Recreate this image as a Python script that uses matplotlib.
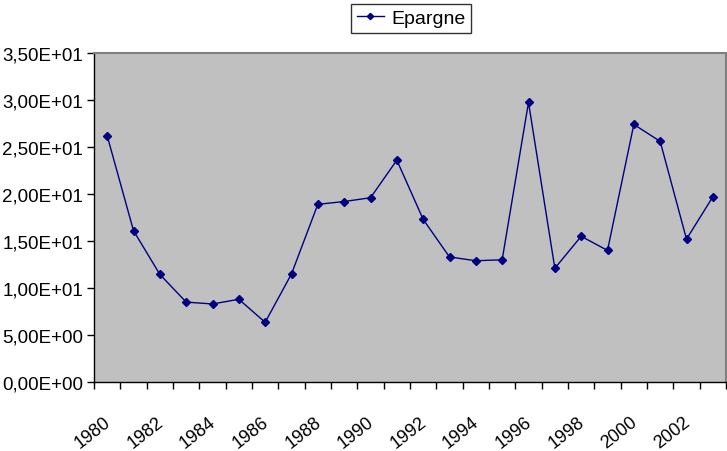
"""Epargne 1980-2003, Excel-style line chart."""

import numpy as np
import matplotlib
matplotlib.use("Agg")
import matplotlib.pyplot as plt
from matplotlib.ticker import FixedLocator, FuncFormatter
from matplotlib.transforms import ScaledTranslation

years = list(range(1980, 2004))
epargne = [26.2, 16.1, 11.45, 8.5, 8.3, 8.8, 6.35, 11.5, 18.9, 19.2, 19.6, 23.6,
           17.3, 13.3, 12.9, 13.0, 29.75, 12.1, 15.5, 14.0, 27.4, 25.6, 15.2, 19.7]
y_ticks = [0, 5, 10, 15, 20, 25, 30, 35]

plt.rcParams["font.family"] = ["Liberation Sans", "DejaVu Sans"]

fig = plt.figure(figsize=(7.27, 4.52), dpi=100)
ax = fig.add_axes([94 / 727, (452 - 383) / 452, 632 / 727, 329 / 452])
ax.set_facecolor("#c0c0c0")

x = np.arange(len(years))
line, = ax.plot(x, epargne, color="#000080", linewidth=1.0, marker="D",
                markersize=4, markerfacecolor="#000080", markeredgecolor="#000080",
                label="Epargne")

ax.set_xlim(-0.5, len(years) - 0.5)
ax.set_ylim(0, 35)

# y axis
ax.set_yticks(y_ticks)
ax.yaxis.set_major_formatter(
    FuncFormatter(lambda v, p: ("%.2E" % v).replace(".", ",")))
ax.tick_params(axis="y", direction="out", length=5, width=1, labelsize=13.5, pad=3)

# x axis: ticks at category boundaries, labels at category centres
ax.xaxis.set_major_locator(FixedLocator(np.arange(-0.5, len(years), 1.0)))
ax.xaxis.set_major_formatter(FuncFormatter(lambda v, p: ""))
ax.xaxis.set_minor_locator(FixedLocator(x[::2]))
ax.set_xticklabels([str(y) for y in years[::2]], minor=True,
                   rotation=38, ha="right", va="top", rotation_mode="anchor")
ax.tick_params(axis="x", which="minor", length=0, labelsize=13, pad=22)
ax.tick_params(axis="x", which="major", direction="out", length=5, width=1)
shift = ScaledTranslation(-4 / 100, 0, fig.dpi_scale_trans)
for lab in ax.get_xticklabels(minor=True):
    lab.set_transform(lab.get_transform() + shift)

for side in ["left", "bottom"]:
    ax.spines[side].set_color("black")
    ax.spines[side].set_linewidth(1.0)
for side in ["top", "right"]:
    ax.spines[side].set_color("#808080")
    ax.spines[side].set_linewidth(1.5)

leg = fig.legend(handles=[line], loc="upper center", bbox_to_anchor=(411 / 727, 0.998),
                 fontsize=14, frameon=True, fancybox=False, handlelength=1.4,
                 handletextpad=0.35, borderpad=0.3, borderaxespad=0.2, markerscale=0.8)
leg.get_frame().set_edgecolor("black")
leg.get_frame().set_linewidth(1.0)

fig.savefig("out.png", dpi=100)
